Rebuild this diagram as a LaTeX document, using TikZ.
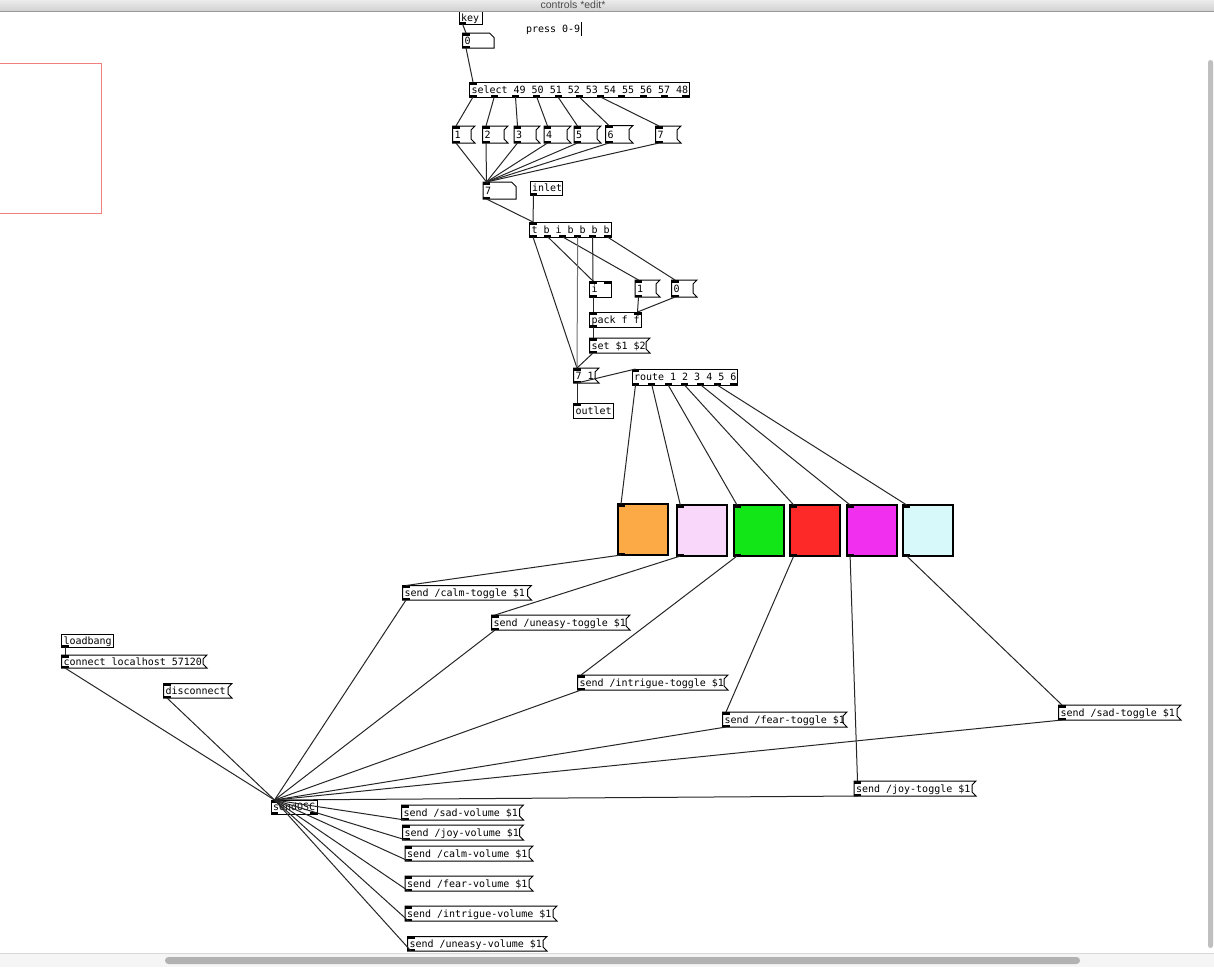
\documentclass[tikz,border=0pt]{standalone}
\usepackage{fontspec}
\newfontfamily\pdfont{DejaVu Sans Mono}
\newfontfamily\uifont{Liberation Sans}
\definecolor{gopred}{RGB}{240,128,128}
\definecolor{tA}{RGB}{251,170,70}
\definecolor{tB}{RGB}{249,215,250}
\definecolor{tC}{RGB}{18,230,22}
\definecolor{tD}{RGB}{253,41,41}
\definecolor{tE}{RGB}{241,48,239}
\definecolor{tF}{RGB}{216,249,250}
\newcommand\pdstrut{\rule[-1.6pt]{0pt}{11pt}}
\tikzset{
  pdbox/.style={anchor=north west, inner xsep=2pt, inner ysep=0pt, outer sep=0pt,
    font=\pdfont\fontsize{10}{12}\selectfont, line width=1pt},
  wire/.style={line width=1pt, draw=black!85},
  port/.style={fill=black},
  outline/.style={line width=1pt, draw=black},
  togglebox/.style={anchor=north west, draw, line width=2pt, inner sep=0pt, outer sep=0pt,
    minimum width=50pt, minimum height=51pt},
}
% ports: name, x1, y1, x2, y2, nin, nout
\newcommand\pdports[7]{%
  \pgfmathsetmacro\pdw{#4-#2-7}%
  \ifnum#6>0
    \foreach \k in {1,...,#6}{%
      \pgfmathsetmacro\px{#2+\pdw*(\k-1)/max(#6-1,1)}%
      \fill[port] (\px,#3) rectangle ++(7,2.5);
      \coordinate (#1-i\k) at (\px+3.5,#3);
    }%
  \fi
  \ifnum#7>0
    \foreach \k in {1,...,#7}{%
      \pgfmathsetmacro\px{#2+\pdw*(\k-1)/max(#7-1,1)}%
      \fill[port] (\px,#5) rectangle ++(7,-2.5);
      \coordinate (#1-o\k) at (\px+3.5,#5);
    }%
  \fi}
% object box: name, x1, y1, x2, y2, nin, nout, text
\newcommand\pdobj[8]{%
  \pgfmathsetmacro\pdbw{#4-#2}\pgfmathsetmacro\pdbh{#5-#3}\pgfmathsetmacro\pdtw{#4-#2-4}%
  \node[pdbox, draw, minimum width=\pdbw pt, minimum height=\pdbh pt] (#1) at (#2,#3)
    {\makebox[\pdtw pt][l]{\pdstrut #8}};
  \pdports{#1}{#2}{#3}{#4}{#5}{#6}{#7}}
% message box: name, x1, y1, x2, y2, text
\newcommand\pdmsg[6]{%
  \pgfmathsetmacro\pdbw{#4-#2}\pgfmathsetmacro\pdbh{#5-#3}\pgfmathsetmacro\pdtw{#4-#2-4}%
  \draw[outline, fill=white] (#2,#3) -- (#4+4,#3) -- (#4,#3+4) -- (#4,#5-4) -- (#4+4,#5) -- (#2,#5) -- cycle;
  \node[pdbox, minimum width=\pdbw pt, minimum height=\pdbh pt] (#1) at (#2,#3)
    {\makebox[\pdtw pt][l]{\pdstrut #6}};
  \pdports{#1}{#2}{#3}{#4}{#5}{1}{1}}
% number box: name, x1, y1, x2, y2, text
\newcommand\pdnum[6]{%
  \pgfmathsetmacro\pdbw{#4-#2}\pgfmathsetmacro\pdbh{#5-#3}\pgfmathsetmacro\pdtw{#4-#2-4}%
  \draw[outline, fill=white] (#2,#3) -- (#4-4.5,#3) -- (#4,#3+4.5) -- (#4,#5) -- (#2,#5) -- cycle;
  \node[pdbox, minimum width=\pdbw pt, minimum height=\pdbh pt] (#1) at (#2,#3)
    {\makebox[\pdtw pt][l]{\pdstrut #6}};
  \pdports{#1}{#2}{#3}{#4}{#5}{1}{1}}
% toggle: name, x1, y1, colour
\newcommand\pdtog[4]{%
  \node[togglebox, fill=#4] (#1) at (#2,#3) {};
  \pdports{#1}{#2}{#3}{#2+50}{#3+51}{1}{1}}

\begin{document}
\begin{tikzpicture}[x=1pt,y=-1pt]
\useasboundingbox (0,0) rectangle (1214,967);
\clip (0,0) rectangle (1214,967);
\fill[white] (0,0) rectangle (1214,967);

% graph-on-parent area
\draw[draw=gopred, line width=1pt] (-2,63.5) rectangle (101,213);

% top chain
\pdobj{key}{459}{11.5}{482}{24}{0}{1}{key}
\pdnum{n0}{462.5}{33}{494}{48}{0}
\node[pdbox, anchor=west] (cmt) at (524,29) {\pdstrut press 0-9};
\draw[line width=1pt] (581,22) -- (581,36);
\pdobj{sel}{469.5}{82}{689}{97}{1}{11}{select 49 50 51 52 53 54 55 56 57 48}

\pdmsg{m1}{452.5}{126}{471}{143}{1}
\pdmsg{m2}{482.5}{126}{504}{143}{2}
\pdmsg{m3}{514}{126}{536}{143}{3}
\pdmsg{m4}{544}{126}{567}{143}{4}
\pdmsg{m5}{574}{126}{597}{143}{5}
\pdmsg{m6b}{607.5}{127.5}{624}{141.5}{6}
\pdmsg{m6}{605.5}{125.5}{629}{143}{6}
\pdmsg{m7}{655.5}{126}{677}{143}{7}

\pdnum{n7}{483}{182}{516}{199}{7}
\pdobj{inl}{530}{181}{562}{195}{0}{1}{inlet}
\pdobj{trig}{529.5}{222}{611}{237}{1}{6}{t b i b b b b}
\pdobj{iobj}{589.5}{281}{611}{297}{2}{1}{i}
\pdmsg{mA}{635}{280}{656}{297}{1}
\pdmsg{mB}{671.5}{280}{693}{297}{0}
\pdobj{pack}{589.5}{312}{641}{327}{2}{1}{pack f f}
\pdmsg{setm}{589.5}{338}{646}{353}{set \$1 \$2}
\pdmsg{m71}{573.5}{368}{595}{383}{7 1}
\pdobj{outl}{573.5}{403}{613}{418}{1}{0}{outlet}
\pdobj{route}{632}{369}{737}{385}{1}{7}{route 1 2 3 4 5 6}

% toggles
\pdtog{t1}{617.5}{504}{tA}
\pdtog{t2}{676.8}{505}{tB}
\pdtog{t3}{733.5}{505}{tC}
\pdtog{t4}{790.2}{505}{tD}
\pdtog{t5}{846.6}{505}{tE}
\pdtog{t6}{903.2}{505}{tF}

% toggle senders
\pdmsg{calmT}{402.5}{585.5}{527.5}{600}{send /calm-toggle \$1}
\pdmsg{uneT}{491.5}{615}{626}{630}{send /uneasy-toggle \$1}
\pdmsg{intT}{577.5}{675}{724}{690}{send /intrigue-toggle \$1}
\pdmsg{fearT}{722.5}{712}{843}{727}{send /fear-toggle \$1}
\pdmsg{sadT}{1058.5}{705}{1177}{720}{send /sad-toggle \$1}
\pdmsg{joyT}{854}{781}{972}{796}{send /joy-toggle \$1}

% OSC connection
\pdobj{lb}{61.5}{634}{113}{647}{0}{1}{loadbang}
\pdmsg{cnct}{61.5}{655}{203}{668}{connect localhost 57120}
\pdmsg{disc}{163.5}{683.5}{228}{698}{disconnect}
\pdobj{osc}{271}{800}{317}{814}{1}{2}{sendOSC}

% volume senders
\pdmsg{sadV}{401.5}{805}{519.5}{820}{send /sad-volume \$1}
\pdmsg{joyV}{402.5}{825}{519.5}{840}{send /joy-volume \$1}
\pdmsg{calmV}{405}{846}{529}{861}{send /calm-volume \$1}
\pdmsg{fearV}{405}{876}{529}{891}{send /fear-volume \$1}
\pdmsg{intV}{405}{906}{553}{921}{send /intrigue-volume \$1}
\pdmsg{uneV}{407.5}{936.5}{543}{951}{send /uneasy-volume \$1}

% ---------------- connections ----------------
\draw[wire] (key-o1) -- (n0-i1);
\draw[wire] (n0-o1) -- (sel-i1);
\draw[wire] (sel-o1) -- (m1-i1);
\draw[wire] (sel-o2) -- (m2-i1);
\draw[wire] (sel-o3) -- (m3-i1);
\draw[wire] (sel-o4) -- (m4-i1);
\draw[wire] (sel-o5) -- (m5-i1);
\draw[wire] (sel-o6) -- (m6-i1);
\draw[wire] (sel-o7) -- (m7-i1);
\foreach \m in {m1,m2,m3,m4,m5,m6,m7}{\draw[wire] (\m-o1) -- (n7-i1);}
\draw[wire] (n7-o1) -- (trig-i1);
\draw[wire] (inl-o1) -- (trig-i1);
\draw[wire] (trig-o1) -- (m71-i1);
\draw[wire] (trig-o2) -- (iobj-i1);
\draw[wire] (trig-o3) -- (mA-i1);
\draw[wire, draw=black!55] (trig-o4) -- (m71-i1);
\draw[wire] (trig-o5) -- (iobj-i1);
\draw[wire] (trig-o6) -- (mB-i1);
\draw[wire] (iobj-o1) -- (pack-i1);
\draw[wire] (mA-o1) -- (pack-i2);
\draw[wire] (mB-o1) -- (pack-i2);
\draw[wire] (pack-o1) -- (setm-i1);
\draw[wire] (setm-o1) -- (m71-i1);
\draw[wire] (m71-o1) -- (route-i1);
\draw[wire] (m71-o1) -- (outl-i1);
\draw[wire] (route-o1) -- (t1-i1);
\draw[wire] (route-o2) -- (t2-i1);
\draw[wire] (route-o3) -- (t3-i1);
\draw[wire] (route-o4) -- (t4-i1);
\draw[wire] (route-o5) -- (t5-i1);
\draw[wire] (route-o6) -- (t6-i1);
\draw[wire] (t1-o1) -- (calmT-i1);
\draw[wire] (t2-o1) -- (uneT-i1);
\draw[wire] (t3-o1) -- (intT-i1);
\draw[wire] (t4-o1) -- (fearT-i1);
\draw[wire] (t5-o1) -- (joyT-i1);
\draw[wire] (t6-o1) -- (sadT-i1);
\draw[wire] (lb-o1) -- (cnct-i1);
\foreach \m in {cnct,disc,calmT,uneT,intT,fearT,sadT,joyT,sadV,joyV,calmV,fearV,intV,uneV}{%
  \draw[wire] (\m-o1) -- (osc-i1);}

% ---------------- window chrome ----------------
\shade[top color=black!8, bottom color=black!18] (0,0) rectangle (1214,11);
\draw[black!40, line width=0.8pt] (0,11) -- (1214,11);
\node[font=\uifont\fontsize{10.5}{10.5}\selectfont, text=black!70, anchor=base, inner sep=0pt] (title) at (573,8.7) {controls *edit*};
\fill[black!4] (0,953) rectangle (1214,967);
\draw[black!15, line width=0.8pt] (0,953) -- (1214,953);
\fill[black!30, rounded corners=3.5pt] (165,957) rectangle (1080,964);
\fill[black!25, rounded corners=2.5pt] (1208,60) rectangle (1213,948);
\end{tikzpicture}
\end{document}
